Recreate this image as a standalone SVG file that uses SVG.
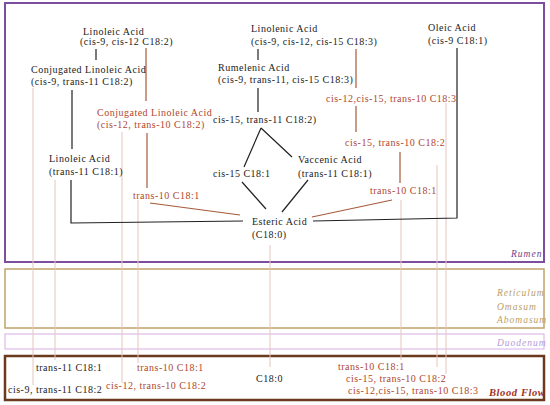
<svg xmlns="http://www.w3.org/2000/svg" width="550" height="405" viewBox="0 0 550 405">
<style>
text{font-family:"Liberation Serif","Times New Roman",serif;font-size:10px;letter-spacing:0.5px}
.k{fill:#222}
.r{fill:#b0472d}
.side{font-style:italic;font-size:9.5px;letter-spacing:1px}
.bk{stroke:#222;stroke-width:1.2;fill:none}
.rd{stroke:#a65a3a;stroke-width:1.2;fill:none}
.ft{stroke:#e6c6bc;stroke-width:1;fill:none}
</style>
<rect width="550" height="405" fill="#fff"/>
<g id="compartments">
<rect x="5" y="3" width="539" height="259" fill="none" stroke="#7d4e9e" stroke-width="2"/>
<text x="511" y="257" class="side" fill="#6d3f8f">Rumen</text>
<rect x="5" y="269" width="539" height="59" fill="none" stroke="#bfa46a" stroke-width="1.5"/>
<text x="497" y="296" class="side" fill="#b8a06a">Reticulum</text>
<text x="497" y="310" class="side" fill="#b8a06a">Omasum</text>
<text x="497" y="323" class="side" fill="#b8a06a">Abomasum</text>
<rect x="5" y="334" width="539" height="15" fill="none" stroke="#d8aee6" stroke-width="1"/>
<text x="497" y="346" class="side" fill="#b49ad6">Duodenum</text>
<rect x="5" y="356" width="539" height="44" fill="none" stroke="#6b3a1e" stroke-width="2.5"/>
<text x="489" y="396" style="font-style:italic;font-weight:bold;font-size:10.5px;letter-spacing:0.6px" fill="#a0301e">Blood Flow</text>
</g>
<g id="connectors">
<path class="ft" d="M33 88V385M55 180V360M122 132V383M138 200V363M270 245V367M401 200V360M437 165V367M446 103V374"/>
<path class="bk" d="M96 49V60M72 90V149M71 180V223L243 221M258 49V60M258 88V112M261 128L244 167M261 128L292 157M242 182L266 209M308 180L282 212M313 221L457 218V48"/>
<path class="rd" d="M146 48V101M147 133V188M150 203L240 215M356 49V88M356 106V132M400 152V183M392 200L312 217"/>
</g>
<g id="n-linoleic"><text class="k" x="83" y="35">Linoleic Acid</text><text class="k" x="80" y="45">(cis-9, cis-12 C18:2)</text></g>
<g id="n-cla-black"><text class="k" x="31" y="73">Conjugated Linoleic Acid</text><text class="k" x="31" y="85">(cis-9, trans-11 C18:2)</text></g>
<g id="n-cla-red"><text class="r" x="97" y="116">Conjugated Linoleic Acid</text><text class="r" x="97" y="128">(cis-12, trans-10 C18:2)</text></g>
<g id="n-linoleic-t11"><text class="k" x="49" y="162">Linoleic Acid</text><text class="k" x="49" y="175">(trans-11 C18:1)</text></g>
<g id="n-t10-left"><text class="r" x="133" y="199">trans-10 C18:1</text></g>
<g id="n-esteric"><text class="k" x="252" y="225">Esteric Acid</text><text class="k" x="252" y="238">(C18:0)</text></g>
<g id="n-cis15"><text class="k" x="213" y="177">cis-15 C18:1</text></g>
<g id="n-vaccenic"><text class="k" x="298" y="163">Vaccenic Acid</text><text class="k" x="298" y="177">(trans-11 C18:1)</text></g>
<g id="n-c15t11"><text class="k" x="213" y="123">cis-15, trans-11 C18:2)</text></g>
<g id="n-rumelenic"><text class="k" x="218" y="71">Rumelenic Acid</text><text class="k" x="218" y="83">(cis-9, trans-11, cis-15 C18:3)</text></g>
<g id="n-linolenic"><text class="k" x="251" y="32">Linolenic Acid</text><text class="k" x="251" y="45">(cis-9, cis-12, cis-15 C18:3)</text></g>
<g id="n-oleic"><text class="k" x="428" y="31">Oleic Acid</text><text class="k" x="428" y="44">(cis-9 C18:1)</text></g>
<g id="n-c12c15t10"><text class="r" x="326" y="102">cis-12,cis-15, trans-10 C18:3</text></g>
<g id="n-c15t10"><text class="r" x="345" y="146">cis-15, trans-10 C18:2</text></g>
<g id="n-t10-right"><text class="r" x="370" y="194">trans-10 C18:1</text></g>
<g id="blood">
<text class="k" x="36" y="371">trans-11 C18:1</text>
<text class="k" x="8" y="393">cis-9, trans-11 C18:2</text>
<text class="r" x="137" y="371">trans-10 C18:1</text>
<text class="r" x="106" y="389">cis-12, trans-10 C18:2</text>
<text class="k" x="256" y="382">C18:0</text>
<text class="r" x="338" y="370">trans-10 C18:1</text>
<text class="r" x="346" y="382">cis-15, trans-10 C18:2</text>
<text class="r" x="348" y="394">cis-12,cis-15, trans-10 C18:3</text>
</g>
</svg>
